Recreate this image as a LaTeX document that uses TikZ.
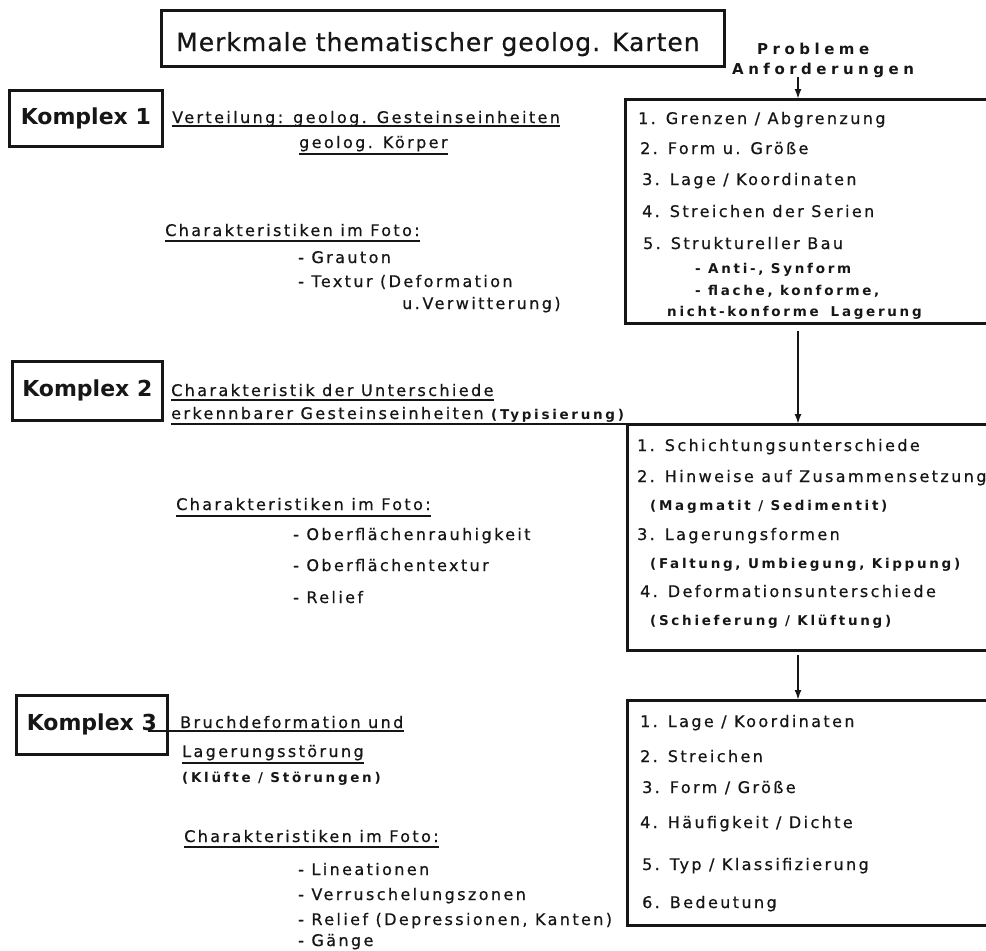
\documentclass[tikz,border=0pt]{standalone}
\usepackage{fontspec}
\usetikzlibrary{arrows.meta}
\setmainfont{DejaVu Sans}
\newfontfamily\mainf[LetterSpace=15,FakeBold=0.6]{DejaVu Sans}
\newfontfamily\smallf[LetterSpace=20]{DejaVu Sans}
\newfontfamily\titlef[LetterSpace=4,FakeBold=0.6]{DejaVu Sans}
\newfontfamily\probf[LetterSpace=30]{DejaVu Sans}
\newfontfamily\kompf{DejaVu Sans}
\definecolor{ink}{HTML}{161616}
\tikzset{
  txt/.style={anchor=base west, inner sep=0pt, text=ink, font=\mainf\fontsize{16}{19}\selectfont},
  sm/.style={anchor=base west, inner sep=0pt, text=ink, font=\smallf\bfseries\fontsize{13.5}{16}\selectfont},
  ttl/.style={anchor=base west, inner sep=0pt, text=ink, font=\titlef\fontsize{25}{29}\selectfont},
  prob/.style={anchor=base west, inner sep=0pt, text=ink, font=\probf\bfseries\fontsize{15}{18}\selectfont},
  kbox/.style={draw=ink, line width=2.6pt, anchor=north west, inner sep=0pt, text=ink, font=\kompf\bfseries\fontsize{22}{26}\selectfont},
  bigbox/.style={anchor=north west, inner sep=0pt},
  openbox/.style={draw=ink, line width=3pt},
  ul/.style={draw=ink, line width=2pt},
  arr/.style={draw=ink, line width=2pt, -{Latex[length=10pt,width=7pt]}}
}
\begin{document}
\begin{tikzpicture}[x=1pt,y=-1pt]
\useasboundingbox[fill=white] (0,0) rectangle (986,951);
\clip (0,0) rectangle (986,951);

% ---------- title ----------
\node[bigbox, draw=ink, line width=2.6pt, minimum width=563pt, minimum height=56pt] (tbox) at (160,9) {};
\node[ttl] (title) at (176,51) {Merkmale thematischer geolog. Karten};

\node[prob] (prob) at (757,54) {Probleme};
\node[prob] (anf) at (732,74) {Anforderungen};
\coordinate (ax) at (798,0);

% ---------- right boxes (cut off by the right edge) ----------
\node[bigbox, minimum width=600pt, minimum height=224pt] (b1) at (625,99) {};
\node[bigbox, minimum width=600pt, minimum height=226pt] (b2) at (627,424) {};
\node[bigbox, minimum width=600pt, minimum height=225pt] (b3) at (627,700) {};
\foreach \b in {b1,b2,b3}
  \draw[openbox] (\b.north east) -- (\b.north west) -- (\b.south west) -- (\b.south east);

\draw[arr] (ax |- anf.south) -- (ax |- b1.north);
\draw[arr] ([yshift=-8pt]ax |- b1.south) -- (ax |- b2.north);
\draw[arr] ([yshift=-5pt]ax |- b2.south) -- (ax |- b3.north);

% box 1 contents
\node[txt] (p11) at (638,124) {1. Grenzen / Abgrenzung};
\node[txt] (p12) at (640,154) {2. Form u. Größe};
\node[txt] (p13) at (642,185) {3. Lage / Koordinaten};
\node[txt] (p14) at (642,217) {4. Streichen der Serien};
\node[txt] (p15) at (643,249) {5. Struktureller Bau};
\node[sm] (p16) at (695,273) {- Anti-, Synform};
\node[sm] (p17) at (695,295) {- flache, konforme,};
\node[sm] (p18) at (667,316) {nicht-konforme\hspace{12pt}Lagerung};

% box 2 contents
\node[txt] (p21) at (637,451) {1. Schichtungsunterschiede};
\node[txt] (p22) at (637,482) {2. Hinweise auf Zusammensetzung};
\node[sm] (p23) at (650,510) {(Magmatit / Sedimentit)};
\node[txt] (p24) at (637,540) {3. Lagerungsformen};
\node[sm] (p25) at (650,568) {(Faltung, Umbiegung, Kippung)};
\node[txt] (p26) at (640,597) {4. Deformationsunterschiede};
\node[sm] (p27) at (650,625) {(Schieferung / Klüftung)};

% box 3 contents
\node[txt] (p31) at (640,727) {1. Lage / Koordinaten};
\node[txt] (p32) at (640,762) {2. Streichen};
\node[txt] (p33) at (642,793) {3. Form / Größe};
\node[txt] (p34) at (640,828) {4. Häufigkeit / Dichte};
\node[txt] (p35) at (642,870) {5. Typ / Klassifizierung};
\node[txt] (p36) at (642,908) {6. Bedeutung};

% ---------- Komplex 1 ----------
\node[kbox, minimum width=153pt, minimum height=56pt] (k1) at (8,89) {Komplex 1};
\node[txt] (v1) at (172,123) {Verteilung: geolog. Gesteinseinheiten};
\draw[ul] ([yshift=-3pt]v1.base west) -- ([yshift=-3pt]v1.base east);
\node[txt] (v2) at (299,148) {geolog. Körper};
\draw[ul] ([yshift=-6pt]v2.base west) -- ([yshift=-6pt]v2.base east);
\node[txt] (c1) at (165,236) {Charakteristiken im Foto:};
\draw[ul] ([yshift=-5pt]c1.base west) -- ([yshift=-5pt]c1.base east);
\node[txt] (g1) at (298,263) {- Grauton};
\node[txt] (g2) at (298,287) {- Textur (Deformation};
\node[txt] (g3) at (402,309) {u.\,Verwitterung)};

% ---------- Komplex 2 ----------
\node[kbox, minimum width=150pt, minimum height=59pt] (k2) at (11,360) {Komplex 2};
\node[txt] (u1) at (171,396) {Charakteristik der Unterschiede};
\draw[ul] ([yshift=-4pt]u1.base west) -- ([yshift=-4pt]u1.base east);
\node[txt] (u2) at (171,419) {erkennbarer Gesteinseinheiten {\smallf\bfseries\fontsize{13.5}{16}\selectfont (Typisierung)}};
\draw[ul] ([yshift=-5pt]u2.base west) -- (b2.north west);
\node[txt] (c2) at (176,510) {Charakteristiken im Foto:};
\draw[ul] ([yshift=-6pt]c2.base west) -- ([yshift=-6pt]c2.base east);
\node[txt] (o1) at (293,540) {- Oberflächenrauhigkeit};
\node[txt] (o2) at (293,571) {- Oberflächentextur};
\node[txt] (o3) at (293,603) {- Relief};

% ---------- Komplex 3 ----------
\node[kbox, minimum width=151pt, minimum height=59pt] (k3) at (15,694) {Komplex 3};
\node[txt] (r1) at (180,728) {Bruchdeformation und};
\draw[ul] ([xshift=-32pt,yshift=-3pt]r1.base west) -- ([yshift=-3pt]r1.base east);
\node[txt] (r2) at (182,757) {Lagerungsstörung};
\draw[ul] ([yshift=-6pt]r2.base west) -- ([yshift=-6pt]r2.base east);
\node[sm] (r3) at (182,782) {(Klüfte / Störungen)};
\node[txt] (c3) at (184,842) {Charakteristiken im Foto:};
\draw[ul] ([yshift=-5pt]c3.base west) -- ([yshift=-5pt]c3.base east);
\node[txt] (l1) at (298,875) {- Lineationen};
\node[txt] (l2) at (298,900) {- Verruschelungszonen};
\node[txt] (l3) at (298,925) {- Relief (Depressionen, Kanten)};
\node[txt] (l4) at (298,946) {- Gänge};
\end{tikzpicture}
\end{document}
